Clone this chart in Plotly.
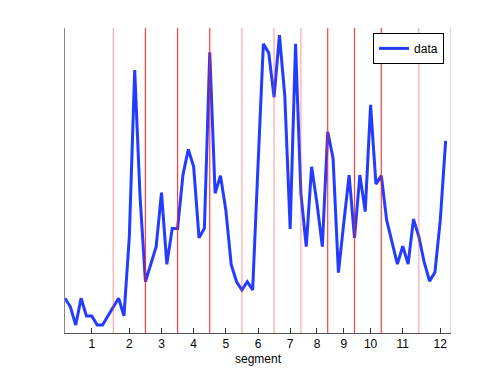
import plotly.graph_objects as go

# sample values (relative height), one per sample index
values = [
    0.114, 0.086, 0.026, 0.114, 0.056, 0.056, 0.026, 0.026, 0.056, 0.085,
    0.114, 0.056, 0.316, 0.862, 0.447, 0.168, 0.229, 0.283, 0.460, 0.225,
    0.343, 0.343, 0.518, 0.602, 0.545, 0.312, 0.343, 0.920, 0.458, 0.516,
    0.403, 0.225, 0.168, 0.141, 0.168, 0.141, 0.548, 0.948, 0.919, 0.773,
    0.977, 0.777, 0.341, 0.948, 0.458, 0.283, 0.545, 0.425, 0.283, 0.660,
    0.573, 0.198, 0.361, 0.518, 0.312, 0.518, 0.398, 0.748, 0.488, 0.516,
    0.370, 0.294, 0.226, 0.285, 0.226, 0.373, 0.316, 0.232, 0.170, 0.199,
    0.370, 0.630,
]
samples = list(range(len(values)))

# segment boundaries and whether each is a strong one
bounds = [9, 15, 21, 27, 33, 39, 44, 49, 54, 59, 66, 72]
strong = [False, True, True, True, False, False, False, True, True, True, False, False]

tick_pos = [5, 12, 18, 24, 30, 36, 42, 47, 52, 57, 63, 70]
tick_text = [str(k) for k in range(1, 13)]

fig = go.Figure()
fig.add_trace(go.Scatter(
    x=samples, y=values, mode="lines", name="data",
    line=dict(color="rgb(35,60,255)", width=3),
))

for b, s in zip(bounds, strong):
    fig.add_vline(
        x=b, layer="above",
        line=dict(color="rgba(255,30,30,0.85)" if s else "rgba(255,60,60,0.45)", width=1.2),
    )

# page body has an 8px margin, so the figure is shrunk by that much
fig.update_layout(
    width=490, height=367,
    margin=dict(l=57, r=47, t=20, b=42),
    paper_bgcolor="white", plot_bgcolor="white",
    font=dict(family="Liberation Sans, Arial, sans-serif", size=11, color="black"),
    showlegend=True,
    legend=dict(
        x=0.982, y=0.984, xanchor="right", yanchor="top",
        bgcolor="white", bordercolor="black", borderwidth=1,
        font=dict(size=12),
    ),
    xaxis=dict(
        range=[0, 72], showgrid=False, zeroline=False,
        showline=True, linecolor="#555555", linewidth=1,
        tickmode="array", tickvals=tick_pos, ticktext=tick_text,
        ticks="inside", ticklen=5, tickcolor="#333333",
        tickfont=dict(size=12),
        title=dict(text="segment", standoff=4, font=dict(size=12)),
    ),
    yaxis=dict(
        range=[0, 1], showgrid=False, zeroline=False,
        showline=True, linecolor="#888888", linewidth=1,
        showticklabels=False, ticks="",
    ),
)

fig.write_html("out.html")
